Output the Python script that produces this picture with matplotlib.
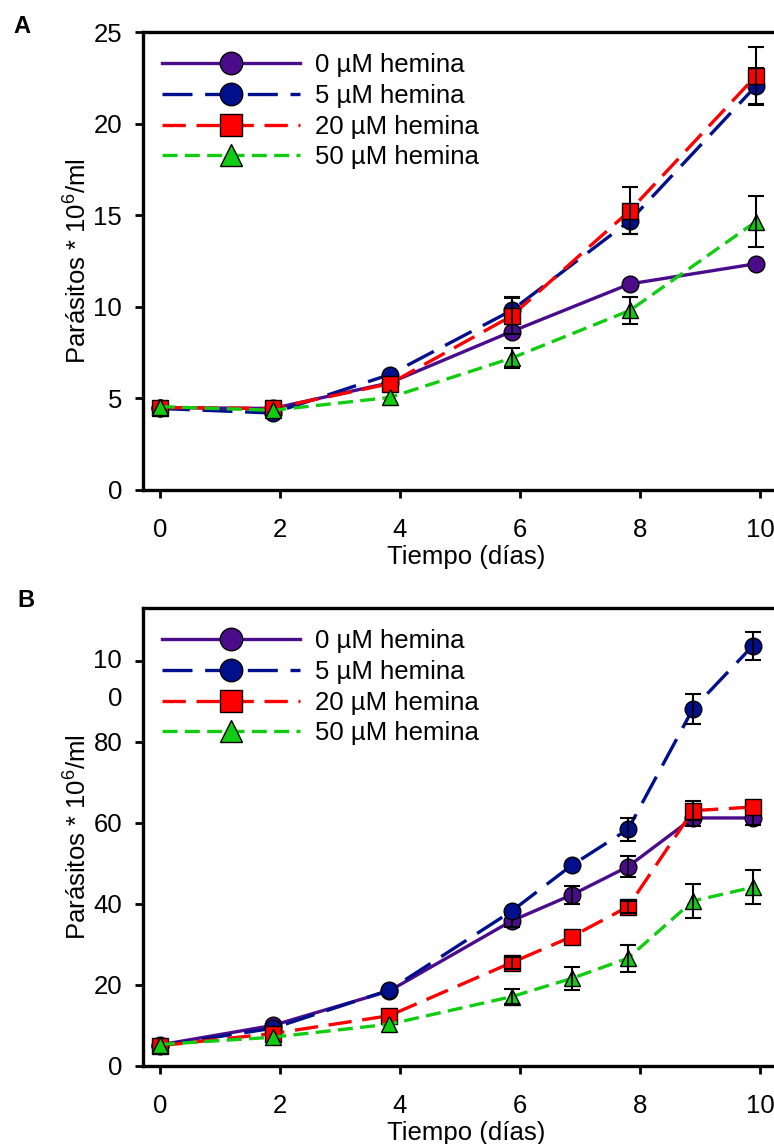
import matplotlib
matplotlib.use("Agg")
import matplotlib.pyplot as plt
from matplotlib.transforms import ScaledTranslation
import numpy as np

plt.rcParams['font.family'] = ['Liberation Sans', 'DejaVu Sans']
plt.rcParams['mathtext.fontset'] = 'custom'
plt.rcParams['mathtext.rm'] = 'Liberation Sans'
plt.rcParams['mathtext.default'] = 'regular'

labels = ["0 µM hemina", "5 µM hemina", "20 µM hemina", "50 µM hemina"]
nan = np.nan

# panel A
days_a = [0, 1.88, 3.83, 5.86, 7.83, 9.93]
a_0 = [4.5, 4.45, 5.85, 8.65, 11.25, 12.35]
a_5 = [4.45, 4.2, 6.3, 9.8, 14.7, 22.05]
a_20 = [4.5, 4.45, 5.8, 9.5, 15.25, 22.6]
a_50 = [4.55, 4.35, 5.05, 7.2, 9.8, 14.65]
a_0_err = [nan, nan, nan, nan, nan, nan]
a_5_err = [nan, nan, nan, 0.75, 0.75, 1.0]
a_20_err = [nan, nan, nan, 1.0, 1.3, 1.6]
a_50_err = [nan, nan, nan, 0.55, 0.75, 1.4]

# panel B
days_b = [0, 1.88, 3.82, 5.86, 6.86, 7.8, 8.88, 9.88]
b_0 = [5.2, 10.0, 18.5, 35.8, 42.2, 49.2, 61.2, 61.2]
b_5 = [5.0, 9.3, 18.7, 38.2, 49.5, 58.4, 88.1, 103.7]
b_20 = [5.0, 8.0, 12.4, 25.5, 31.9, 39.3, 63.0, 63.9]
b_50 = [5.3, 7.1, 10.3, 17.1, 21.6, 26.6, 40.7, 44.1]
b_0_err = [nan, nan, nan, 1.5, 2.2, 2.5, 2.0, 1.8]
b_5_err = [nan, nan, nan, nan, nan, 2.8, 3.7, 3.4]
b_20_err = [nan, nan, nan, 1.5, nan, 1.5, 2.3, nan]
b_50_err = [nan, nan, nan, 1.8, 2.8, 3.3, 4.2, 4.2]

xticks = [0, 2, 4, 6, 8, 10]
yticks_a = [0, 5, 10, 15, 20, 25]
yticks_b = [0, 20, 40, 60, 80, 100]
ytick_labels_b = ["0", "20", "40", "60", "80", "10\n0"]

colors = ['#4b0c8c', '#000f8c', '#ff0000', '#11cc11']
markers = ['o', 'o', 's', '^']
dashes = [None, (9, 3.8), (7, 3.2), (4.5, 2.2)]

fig = plt.figure(figsize=(7.74, 11.44), dpi=100)
ax_a = fig.add_axes([0.1848, 0.5717, 0.836, 0.4003])
ax_b = fig.add_axes([0.1848, 0.0682, 0.836, 0.4003])


def draw(ax, days, series, errs, ylim, yticks, yticklabels):
    handles = []
    for i in range(4):
        kw = dict(color=colors[i], lw=2.4, marker=markers[i], ms=12,
                  mfc=colors[i], mec='black', mew=1.0, zorder=2 + i)
        if dashes[i] is None:
            ln, = ax.plot(days, series[i], ls='-', **kw)
        else:
            ln, = ax.plot(days, series[i], ls=(0, dashes[i]), **kw)
        ax.errorbar(days, series[i], yerr=errs[i], fmt='none', ecolor='black',
                    elinewidth=1.5, capsize=5.5, capthick=1.5, zorder=2.5 + i)
        handles.append(ln)
    ax.set_xlim(-0.28, 10.5)
    ax.set_ylim(*ylim)
    ax.set_xticks(xticks)
    ax.set_yticks(yticks, yticklabels)
    ax.spines['right'].set_visible(False)
    for s in ['left', 'bottom', 'top']:
        ax.spines[s].set_linewidth(2.4)
    ax.tick_params(axis='y', length=6, width=2, pad=9, labelsize=18.5)
    ax.tick_params(axis='x', length=6, width=2, pad=14, labelsize=18.5)
    ax.set_xlabel("Tiempo (días)", fontsize=18.5, labelpad=2)
    ax.set_ylabel(r"Parásitos * 10$^{6}$/ml", fontsize=18.5, labelpad=1)
    ax.legend(handles, labels, loc='upper left', bbox_to_anchor=(0.03, 0.955),
              frameon=False, fontsize=18.5, handlelength=5.35, handletextpad=0.6,
              labelspacing=0.27, markerscale=1.35, borderpad=0, borderaxespad=0)


draw(ax_a, days_a, [a_0, a_5, a_20, a_50], [a_0_err, a_5_err, a_20_err, a_50_err],
     (0, 25), yticks_a, [str(t) for t in yticks_a])
draw(ax_b, days_b, [b_0, b_5, b_20, b_50], [b_0_err, b_5_err, b_20_err, b_50_err],
     (0, 113), yticks_b, ytick_labels_b)

# the "100" label is wrapped in two lines, first line at the tick
lab = ax_b.get_yticklabels()[-1]
lab.set_linespacing(1.75)
lab.set_va('top')
lab.set_transform(lab.get_transform() + ScaledTranslation(0, 0.12, fig.dpi_scale_trans))

fig.text(0.028, 0.977, "A", fontsize=17, fontweight='bold', ha='center', va='center')
fig.text(0.033, 0.475, "B", fontsize=17, fontweight='bold', ha='center', va='center')

fig.savefig("out.png", dpi=100)
